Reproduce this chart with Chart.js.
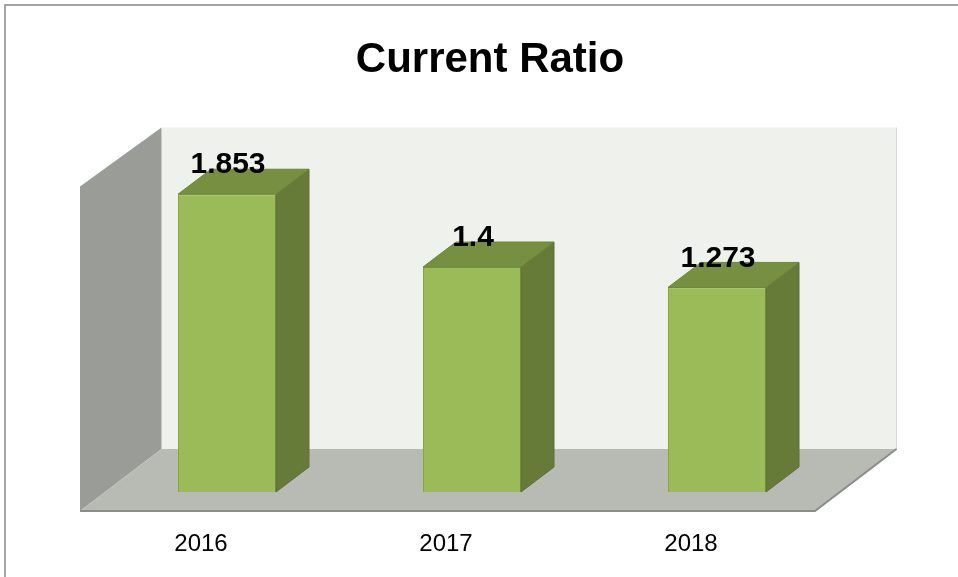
<!DOCTYPE html>
<html>
<head>
<meta charset="utf-8">
<script src="https://cdn.jsdelivr.net/npm/chart.js@4/dist/chart.umd.min.js"></script>
<style>
  body { margin: 0; background: #fff; }
  canvas { display: block; }
</style>
</head>
<body>
<canvas id="ratio-chart" width="958" height="577"></canvas>
<script>
// Chart data
const years = ['2016', '2017', '2018'];
const ratios = [1.853, 1.4, 1.273];
const axisMin = 0;
const axisMax = 2;

// 3D offsets, relative to the plane of the bar fronts
const backOffset = { dx: 57, dy: -43 };
const barDepth = { dx: 33, dy: -25 };
const frontOffset = { dx: -24.5, dy: 19 };

function poly(ctx, pts, fill, stroke, lw) {
    ctx.beginPath();
    ctx.moveTo(pts[0][0], pts[0][1]);
    for (let i = 1; i < pts.length; i++) ctx.lineTo(pts[i][0], pts[i][1]);
    ctx.closePath();
    if (fill) { ctx.fillStyle = fill; ctx.fill(); }
    if (stroke) { ctx.strokeStyle = stroke; ctx.lineWidth = lw || 1; ctx.stroke(); }
}

const box3d = {
    id: 'box3d',
    beforeDraw(chart) {
        const ctx = chart.ctx;
        ctx.save();
        // outer frame
        ctx.strokeStyle = '#868686';
        ctx.lineWidth = 1.5;
        ctx.strokeRect(5, 5, 960, 580);
        ctx.restore();
    },
    beforeDatasetsDraw(chart) {
        const ctx = chart.ctx;
        const yScale = chart.scales.y;
        const L = chart.chartArea.left, R = chart.chartArea.right;
        const T = yScale.getPixelForValue(axisMax);
        const B = yScale.getPixelForValue(axisMin);
        ctx.save();
        // back wall
        poly(ctx, [
            [L + backOffset.dx, T + backOffset.dy], [R + backOffset.dx, T + backOffset.dy],
            [R + backOffset.dx, B + backOffset.dy], [L + backOffset.dx, B + backOffset.dy]
        ], '#eff1ec');
        ctx.strokeStyle = '#d4d6d2';
        ctx.lineWidth = 1;
        ctx.beginPath();
        ctx.moveTo(R + backOffset.dx, T + backOffset.dy);
        ctx.lineTo(R + backOffset.dx, B + backOffset.dy);
        ctx.stroke();
        // left wall
        poly(ctx, [
            [L + backOffset.dx, T + backOffset.dy], [L + backOffset.dx, B + backOffset.dy],
            [L + frontOffset.dx, B + frontOffset.dy], [L + frontOffset.dx, T + frontOffset.dy - 3]
        ], '#9a9c97');
        // floor
        poly(ctx, [
            [L + backOffset.dx, B + backOffset.dy], [R + backOffset.dx, B + backOffset.dy],
            [R + frontOffset.dx, B + frontOffset.dy], [L + frontOffset.dx, B + frontOffset.dy]
        ], '#b8bab4');
        ctx.strokeStyle = '#8c8c8a';
        ctx.lineWidth = 2;
        ctx.beginPath();
        ctx.moveTo(L + frontOffset.dx, B + frontOffset.dy);
        ctx.lineTo(R + frontOffset.dx, B + frontOffset.dy);
        ctx.lineTo(R + backOffset.dx, B + backOffset.dy);
        ctx.stroke();
        ctx.restore();
    },
    afterDatasetsDraw(chart) {
        const ctx = chart.ctx;
        const meta = chart.getDatasetMeta(0);
        ctx.save();
        meta.data.forEach((bar, i) => {
            const left = bar.x - bar.width / 2;
            const right = bar.x + bar.width / 2;
            const top = bar.y;
            const bottom = bar.base;
            // side face
            poly(ctx, [
                [right, top], [right + barDepth.dx, top + barDepth.dy],
                [right + barDepth.dx, bottom + barDepth.dy], [right, bottom]
            ], '#667b38', '#5d7133', 1);
            // top face
            poly(ctx, [
                [left, top], [left + barDepth.dx, top + barDepth.dy],
                [right + barDepth.dx, top + barDepth.dy], [right, top]
            ], '#778f40', '#6b8439', 1);
            // value label
            ctx.fillStyle = '#000';
            ctx.font = 'bold 30px "Liberation Sans", Arial, sans-serif';
            ctx.textAlign = 'center';
            ctx.textBaseline = 'middle';
            ctx.fillText(String(ratios[i]), bar.x + 1, top - 29);
        });
        ctx.restore();
    }
};

new Chart(document.getElementById('ratio-chart'), {
    type: 'bar',
    data: {
        labels: years,
        datasets: [{
            data: ratios,
            backgroundColor: '#9bbb59',
            borderColor: '#86a54a',
            borderWidth: 1,
            barPercentage: 0.4,
            categoryPercentage: 1
        }]
    },
    options: {
        responsive: false,
        animation: false,
        layout: { padding: { left: 104.5, right: 82.5, top: 0, bottom: 0 } },
        plugins: {
            legend: { display: false },
            tooltip: { enabled: false },
            title: {
                display: true,
                text: 'Current Ratio',
                color: '#000',
                font: { family: '"Liberation Sans", Arial, sans-serif', size: 42, weight: 'bold', lineHeight: 1.2 },
                padding: { top: 35, bottom: 85.2 }
            }
        },
        scales: {
            y: {
                position: 'right',
                min: axisMin,
                max: axisMax,
                grid: { display: false, drawTicks: false },
                border: { display: false },
                ticks: { display: false },
                afterFit(scale) { scale.width = 36; }
            },
            x: {
                grid: { display: false, drawTicks: false },
                border: { display: false },
                ticks: {
                    color: '#000',
                    font: { family: '"Liberation Sans", Arial, sans-serif', size: 24 },
                    padding: 38,
                    labelOffset: -26
                },
                afterFit(scale) { scale.height = 85; }
            }
        }
    },
    plugins: [box3d]
});
</script>
</body>
</html>
